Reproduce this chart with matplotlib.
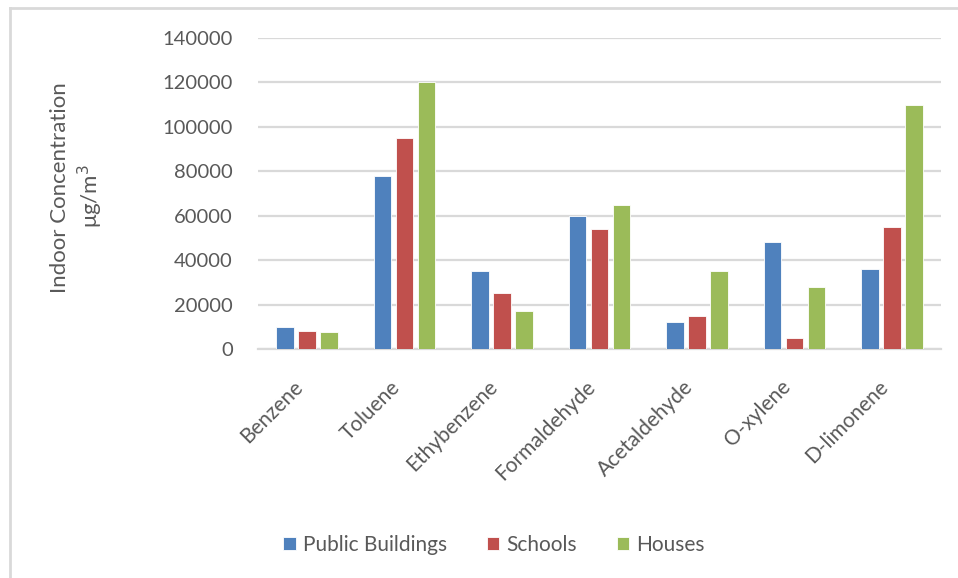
import matplotlib
matplotlib.use("Agg")
import matplotlib.pyplot as plt
from matplotlib.lines import Line2D
import numpy as np

compounds = ["Benzene", "Toluene", "Ethybenzene", "Formaldehyde",
             "Acetaldehyde", "O-xylene", "D-limonene"]
public_buildings = [10000, 78000, 35000, 60000, 12000, 48000, 36000]
schools = [8000, 95000, 25000, 54000, 15000, 5000, 55000]
houses = [7500, 120000, 17000, 65000, 35000, 28000, 110000]
series_names = ["Public Buildings", "Schools", "Houses"]
y_ticks = [0, 20000, 40000, 60000, 80000, 100000, 120000, 140000]

colors = ["#4F81BD", "#C0504D", "#9BBB59"]
text_col = "#595959"
grid_col = "#D9D9D9"

plt.rcParams["font.family"] = ["Lato", "DejaVu Sans"]

W, H = 958, 578
fig = plt.figure(figsize=(W / 100, H / 100), dpi=100)
ax = fig.add_axes([258 / W, 1 - 349 / H, (941 - 258) / W, (349 - 38) / H])

x = np.arange(len(compounds))
step = 0.225
bw = 0.18
for i, (vals, name) in enumerate(zip([public_buildings, schools, houses], series_names)):
    ax.bar(x + (i - 1) * step, vals, bw, color=colors[i], label=name, zorder=3,
           edgecolor="white", linewidth=0.6)

ax.set_xlim(-0.5, len(compounds) - 0.5)
ax.set_ylim(0, 140000)
ax.set_yticks(y_ticks)
ax.set_yticklabels([str(v) for v in y_ticks], fontsize=14.5, color=text_col)
ax.yaxis.grid(True, color=grid_col, linewidth=1.6, zorder=0)
ax.set_axisbelow(True)
for s in ["top", "left", "right"]:
    ax.spines[s].set_visible(False)
ax.spines["bottom"].set_color(grid_col)
ax.spines["bottom"].set_linewidth(1.6)
ax.tick_params(axis="y", length=0, pad=18)
ax.tick_params(axis="x", length=0, pad=20)

ax.set_xticks(x)
ax.set_xticklabels(compounds, rotation=45, ha="right", fontsize=15, color=text_col)

# two-line y title
fig.text(60 / W, 1 - 188 / H, "Indoor Concentration", rotation=90, ha="center",
         va="center", fontsize=16, color=text_col)
fig.text(90 / W, 1 - 196 / H, "μg/m$^3$", rotation=90, ha="center",
         va="center", fontsize=16, color=text_col)

fig.legend(loc="center", bbox_to_anchor=(494 / W, 1 - 545 / H), ncol=3,
           frameon=False, fontsize=15, labelcolor=text_col, handlelength=0.6,
           handleheight=0.6, handletextpad=0.35, columnspacing=1.9)

# outer chart border
fig.add_artist(Line2D([10 / W, 10 / W], [0, 1 - 8 / H], color=grid_col, linewidth=2,
                      transform=fig.transFigure))
fig.add_artist(Line2D([10 / W, 1], [1 - 8 / H, 1 - 8 / H], color=grid_col, linewidth=2,
                      transform=fig.transFigure))

fig.savefig("out.png", dpi=100, facecolor="white")
